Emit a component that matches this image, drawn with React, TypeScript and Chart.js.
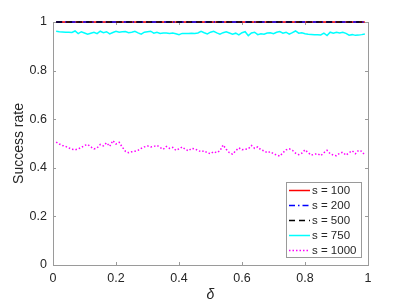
import React, { useEffect, useRef } from "react";
import { Chart, registerables } from "chart.js";
Chart.register(...registerables);

const DELTA = [
  0.01, 0.02, 0.03, 0.04, 0.05, 0.06, 0.07, 0.08, 0.09, 0.1,
  0.11, 0.12, 0.13, 0.14, 0.15, 0.16, 0.17, 0.18, 0.19, 0.2,
  0.21, 0.22, 0.23, 0.24, 0.25, 0.26, 0.27, 0.28, 0.29, 0.3,
  0.31, 0.32, 0.33, 0.34, 0.35, 0.36, 0.37, 0.38, 0.39, 0.4,
  0.41, 0.42, 0.43, 0.44, 0.45, 0.46, 0.47, 0.48, 0.49, 0.5,
  0.51, 0.52, 0.53, 0.54, 0.55, 0.56, 0.57, 0.58, 0.59, 0.6,
  0.61, 0.62, 0.63, 0.64, 0.65, 0.66, 0.67, 0.68, 0.69, 0.7,
  0.71, 0.72, 0.73, 0.74, 0.75, 0.76, 0.77, 0.78, 0.79, 0.8,
  0.81, 0.82, 0.83, 0.84, 0.85, 0.86, 0.87, 0.88, 0.89, 0.9,
  0.91, 0.92, 0.93, 0.94, 0.95, 0.96, 0.97, 0.98, 0.99,
];

const S100 = [
  1,1,1,1,1,1,1,1,1,1, 1,1,1,1,1,1,1,1,1,1, 1,1,1,1,1,1,1,1,1,1,
  1,1,1,1,1,1,1,1,1,1, 1,1,1,1,1,1,1,1,1,1, 1,1,1,1,1,1,1,1,1,1,
  1,1,1,1,1,1,1,1,1,1, 1,1,1,1,1,1,1,1,1,1, 1,1,1,1,1,1,1,1,1,1,
  1,1,1,1,1,1,1,1,1,
];
const S200 = [
  1,1,1,1,1,1,1,1,1,1, 1,1,1,1,1,1,1,1,1,1, 1,1,1,1,1,1,1,1,1,1,
  1,1,1,1,1,1,1,1,1,1, 1,1,1,1,1,1,1,1,1,1, 1,1,1,1,1,1,1,1,1,1,
  1,1,1,1,1,1,1,1,1,1, 1,1,1,1,1,1,1,1,1,1, 1,1,1,1,1,1,1,1,1,1,
  1,1,1,1,1,1,1,1,1,
];
const S500 = [
  1,1,1,1,1,1,1,1,1,1, 1,1,1,1,1,1,1,1,1,1, 1,1,1,1,1,1,1,1,1,1,
  1,1,1,1,1,1,1,1,1,1, 1,1,1,1,1,1,1,1,1,1, 1,1,1,1,1,1,1,1,1,1,
  1,1,1,1,1,1,1,1,1,1, 1,1,1,1,1,1,1,1,1,1, 1,1,1,1,1,1,1,1,1,1,
  1,1,1,1,1,1,1,1,1,
];
const S750 = [
  0.962,0.960,0.959,0.958,0.958,0.957,0.963,0.952,0.960,0.955,
  0.950,0.954,0.958,0.952,0.962,0.956,0.960,0.951,0.957,0.962,
  0.958,0.960,0.961,0.956,0.958,0.962,0.955,0.950,0.958,0.960,
  0.962,0.954,0.958,0.953,
  0.955,0.955,0.953,0.955,0.952,0.948,0.953,0.953,0.953,0.954,
  0.953,0.955,0.962,0.956,0.951,0.958,0.962,0.955,0.950,0.956,
  0.960,0.955,0.950,0.954,0.947,0.956,0.960,0.944,0.955,0.958,
  0.948,0.952,
  0.950,0.955,0.956,0.952,0.958,0.961,0.954,0.958,0.950,0.956,
  0.963,0.954,0.956,0.952,0.950,0.949,0.948,0.948,0.947,0.954,
  0.944,0.958,0.954,0.958,0.955,0.958,0.953,0.946,0.948,0.945,
  0.946,0.948,0.951,
];
const S1000 = [
  0.506,0.498,0.492,0.488,0.482,0.476,0.474,0.478,0.484,0.492,
  0.496,0.486,0.478,0.482,0.496,0.490,0.503,0.488,0.512,0.498,
  0.505,0.485,0.468,0.462,0.466,0.468,0.472,0.480,0.486,0.490,
  0.486,0.488,0.492,0.484,
  0.476,0.488,0.480,0.484,0.472,0.478,0.486,0.476,0.470,0.480,
  0.478,0.472,0.466,0.470,0.462,0.458,0.466,0.462,0.470,0.494,
  0.476,0.462,0.456,0.470,0.482,0.474,0.476,0.478,0.492,0.480,
  0.486,0.474,0.470,
  0.462,0.466,0.458,0.452,0.448,0.462,0.474,0.478,0.472,0.460,
  0.454,0.460,0.474,0.462,0.452,0.456,0.458,0.450,0.462,0.472,
  0.458,0.452,0.450,0.460,0.464,0.452,0.462,0.470,0.458,0.472,
  0.468,0.452,
];

const TICKS = [0, 0.2, 0.4, 0.6, 0.8, 1];
const LABELS = ["s = 100", "s = 200", "s = 500", "s = 750", "s = 1000"];
const COLORS = ["#ff0000", "#0000ff", "#000000", "#00ffff", "#ff00ff"];
const DASHES: number[][] = [[], [6, 3, 1.5, 3], [6, 4], [], [1.5, 2]];
const SERIES = [S100, S200, S500, S750, S1000];

const FONT = "'Liberation Sans', Arial, Helvetica, sans-serif";
const TEXT = "#262626";
const AXIS = "#9a9a9a";

const boxPlugin = {
  id: "matlabBox",
  beforeDatasetsDraw(chart: any) {
    const { ctx, chartArea: a, scales } = chart;
    ctx.save();
    ctx.strokeStyle = AXIS;
    ctx.lineWidth = 1;
    ctx.setLineDash([]);
    ctx.strokeRect(Math.round(a.left) + 0.5, Math.round(a.top) + 0.5, Math.round(a.right - a.left), Math.round(a.bottom - a.top));
    const tl = 3;
    TICKS.forEach((t) => {
      const x = Math.round(scales.x.getPixelForValue(t)) + 0.5;
      ctx.beginPath();
      ctx.moveTo(x, a.bottom); ctx.lineTo(x, a.bottom - tl);
      ctx.moveTo(x, a.top); ctx.lineTo(x, a.top + tl);
      ctx.stroke();
      const y = Math.round(scales.y.getPixelForValue(t)) + 0.5;
      ctx.beginPath();
      ctx.moveTo(a.left, y); ctx.lineTo(a.left + tl, y);
      ctx.moveTo(a.right, y); ctx.lineTo(a.right - tl, y);
      ctx.stroke();
    });
    ctx.restore();
  },
  afterDatasetsDraw(chart: any) {
    const { ctx, chartArea: a } = chart;
    ctx.save();
    const lx = Math.round(a.right) - 82, ly = Math.round(a.bottom) - 83;
    const w = 75, h = 75;
    ctx.fillStyle = "#ffffff";
    ctx.fillRect(lx, ly, w, h);
    ctx.strokeStyle = AXIS;
    ctx.lineWidth = 1;
    ctx.strokeRect(lx + 0.5, ly + 0.5, w, h);
    ctx.font = `11.5px ${FONT}`;
    ctx.textBaseline = "middle";
    ctx.textAlign = "left";
    LABELS.forEach((lab, i) => {
      const yy = ly + 8.5 + i * 15;
      ctx.strokeStyle = COLORS[i];
      ctx.lineWidth = 1.5;
      ctx.setLineDash(DASHES[i]);
      ctx.beginPath();
      ctx.moveTo(lx + 3, yy); ctx.lineTo(lx + 24, yy);
      ctx.stroke();
      ctx.setLineDash([]);
      ctx.fillStyle = TEXT;
      ctx.fillText(lab, lx + 26, yy + 0.5);
    });
    ctx.restore();
  },
};

export default function App() {
  const ref = useRef<HTMLCanvasElement>(null);
  useEffect(() => {
    document.body.style.margin = "0";
    const chart = new Chart(ref.current!, {
      type: "line",
      data: {
        datasets: SERIES.map((s, i) => ({
          label: LABELS[i],
          data: s.map((v, j) => ({ x: DELTA[j], y: v })),
          borderColor: COLORS[i],
          backgroundColor: COLORS[i],
          borderWidth: 1.5,
          borderDash: DASHES[i],
          pointRadius: 0,
          tension: 0,
          fill: false,
          clip: false,
          order: 5 - i,
        })),
      },
      options: {
        animation: false,
        responsive: true,
        maintainAspectRatio: false,
        layout: { padding: { left: 0, top: 22, right: 39, bottom: 0 } },
        plugins: { legend: { display: false }, tooltip: { enabled: false } },
        scales: {
          x: {
            type: "linear",
            min: 0,
            max: 1,
            afterFit: (s: any) => { s.height = 40; },
            afterBuildTicks: (s: any) => { s.ticks = TICKS.map((v) => ({ value: v })); },
            grid: { display: false, drawTicks: false },
            border: { display: false },
            ticks: {
              padding: 6,
              color: TEXT,
              font: { family: FONT, size: 12.5 },
              callback: (v: any) => String(Math.round(Number(v) * 10) / 10),
            },
            title: {
              display: true,
              text: "δ",
              color: TEXT,
              font: { family: FONT, size: 14, style: "italic" },
              padding: { top: 0, bottom: 1.5 },
            },
          },
          y: {
            min: 0,
            max: 1,
            afterFit: (s: any) => { s.width = 53; },
            afterBuildTicks: (s: any) => { s.ticks = TICKS.map((v) => ({ value: v })); },
            grid: { display: false, drawTicks: false },
            border: { display: false },
            ticks: {
              padding: 6,
              color: TEXT,
              font: { family: FONT, size: 12.5 },
              callback: (v: any) => String(Math.round(Number(v) * 10) / 10),
            },
            title: {
              display: true,
              text: "Success rate",
              color: TEXT,
              font: { family: FONT, size: 14 },
              padding: { top: 11, bottom: 0 },
            },
          },
        },
      },
      plugins: [boxPlugin],
    });
    return () => chart.destroy();
  }, []);
  return (
    <div style={{ position: "relative", width: 407, height: 305 }}>
      <canvas ref={ref} />
    </div>
  );
}
